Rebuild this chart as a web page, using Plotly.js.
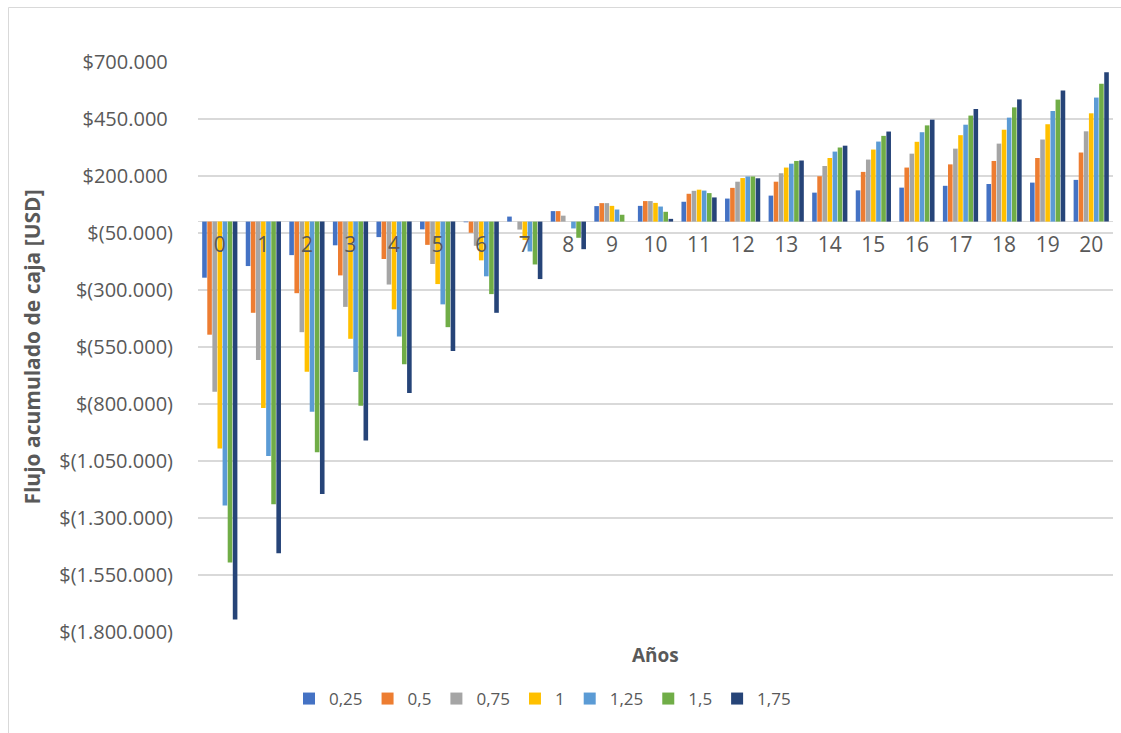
<!DOCTYPE html>
<html>
<head>
<meta charset="utf-8">
<script src="https://cdn.plot.ly/plotly-3.0.1.min.js"></script>
<style>html,body{margin:0;padding:0;background:#fff;}#chart{width:1121px;height:733px;}</style>
</head>
<body>
<div id="chart"></div>
<script>
const years = ['0','1','2','3','4','5','6','7','8','9','10','11','12','13','14','15','16','17','18','19','20'];
const seriesNames = ['0,25','0,5','0,75','1','1,25','1,5','1,75'];
const s025 = [-246000,-195000,-147000,-104000,-68000,-34000,-3000,22000,46000,68000,69000,87000,101000,114000,127000,137000,149000,157000,165000,171000,183000];
const s050 = [-496000,-400000,-314000,-236000,-164000,-102000,-49000,0,46000,81000,90000,122000,148000,175000,199000,218000,237000,251000,266000,279000,303000];
const s075 = [-746000,-607000,-485000,-374000,-276000,-186000,-106000,-35000,26000,81000,90000,135000,175000,212000,244000,272000,298000,320000,342000,360000,396000];
const s100 = [-995000,-818000,-659000,-514000,-385000,-274000,-170000,-81000,0,69000,82000,140000,191000,237000,279000,316000,350000,379000,403000,427000,475000];
const s125 = [-1245000,-1028000,-834000,-660000,-504000,-363000,-240000,-131000,-30000,53000,66000,136000,198000,254000,307000,351000,392000,425000,456000,485000,544000];
const s150 = [-1495000,-1240000,-1012000,-808000,-626000,-463000,-318000,-188000,-71000,30000,43000,125000,198000,266000,325000,376000,422000,465000,501000,535000,605000];
const s175 = [-1745000,-1455000,-1195000,-960000,-752000,-567000,-400000,-252000,-121000,0,12000,106000,190000,268000,333000,395000,447000,494000,536000,575000,655000];
const yTickVals = [700000,450000,200000,-50000,-300000,-550000,-800000,-1050000,-1300000,-1550000,-1800000];
const yTickText = ['$700.000\u00a0','$450.000\u00a0','$200.000\u00a0','$(50.000)','$(300.000)','$(550.000)','$(800.000)','$(1.050.000)','$(1.300.000)','$(1.550.000)','$(1.800.000)'];
const colors = ['#4472C4','#ED7D31','#A5A5A5','#FFC000','#5B9BD5','#70AD47','#264478'];

const allSeries = [s025,s050,s075,s100,s125,s150,s175];
const yMin = -1800000, yMax = 700000;
const traces = allSeries.map((vals,i)=>({
  type:'bar', x: years, y: vals, name: seriesNames[i],
  marker:{color: colors[i], line:{width:0}}
}));
const font = 'Open Sans, sans-serif';
const W = 1121, H = 733;
const mL = 198, mR = 8, mT = 62, mB = 101;
const pw = W-mL-mR, ph = H-mT-mB;
const layout = {
  width: W, height: H,
  margin:{l:mL, r:mR, t:mT, b:mB, pad:0},
  paper_bgcolor:'#fff', plot_bgcolor:'#fff',
  barmode:'group', bargap:0.18, bargroupgap:0.1,
  showlegend:true,
  font:{family:font, color:'#595959'},
  xaxis:{type:'category', range:[-0.5,20.5], anchor:'free',
    position:(0-yMin)/(yMax-yMin),
    showgrid:false, zeroline:false, showline:false, ticks:'',
    tickfont:{family:font, size:21, color:'#595959'}, ticklabelstandoff:8, fixedrange:true},
  yaxis:{range:[yMin,yMax], tickvals:yTickVals, ticktext:yTickText,
    showgrid:true, gridcolor:'#d9d9d9', gridwidth:1.5,
    zeroline:true, zerolinecolor:'#d9d9d9', zerolinewidth:1.5,
    showline:false, ticks:'', ticklabelstandoff:24,
    tickfont:{family:font, size:20, color:'#595959'},
    title:{text:'Flujo acumulado de caja [USD]', font:{family:font, size:21, color:'#595959', weight:'bold'}, standoff:12}},
  legend:{orientation:'h', x:(289-mL)/pw, xanchor:'left', y:(mT+ph-699)/ph, yanchor:'middle',
    font:{family:font, size:17, color:'#595959'}, itemwidth:30, traceorder:'normal'},
  annotations:[{text:'Años', xref:'paper', yref:'paper', x:0.5, y:(mT+ph-655)/ph,
    xanchor:'center', yanchor:'middle', showarrow:false,
    font:{family:font, size:19, color:'#595959', weight:'bold'}}],
  shapes:[{type:'rect', xref:'paper', yref:'paper',
    x0:(8.5-mL)/pw, x1:(1130-mL)/pw, y0:(mT+ph-745)/ph, y1:(mT+ph-7.5)/ph,
    line:{color:'#d9d9d9', width:1}, fillcolor:'rgba(0,0,0,0)', layer:'below'}]
};
Plotly.newPlot('chart', traces, layout, {displayModeBar:false, staticPlot:true});
</script>
</body>
</html>
